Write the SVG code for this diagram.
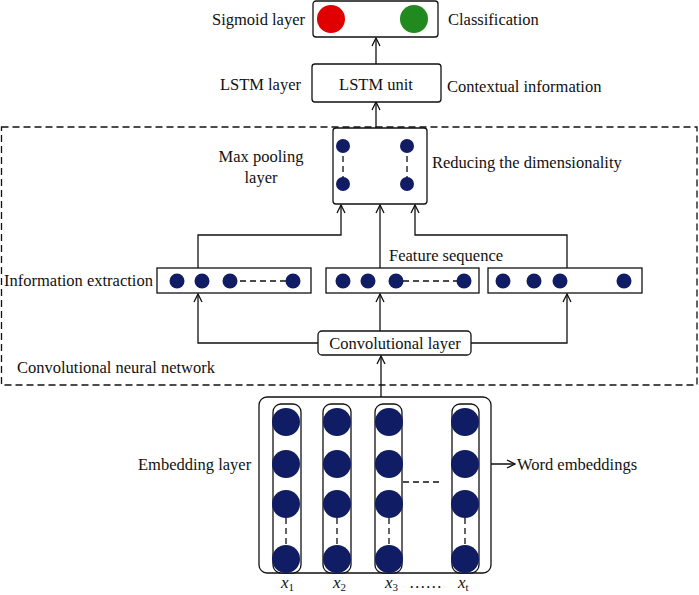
<svg xmlns="http://www.w3.org/2000/svg" width="699" height="595" viewBox="0 0 699 595">
<style>
text{font-family:"Liberation Serif","Times New Roman",serif;font-size:16.5px;fill:#111}
.box{fill:#fff;stroke:#111;stroke-width:1.3}
.dot{fill:#101c63}
.ln{fill:none;stroke:#111;stroke-width:1.3}
.arr{fill:none;stroke:#111;stroke-width:1.3;marker-end:url(#ah)}
.dash{fill:none;stroke:#111;stroke-width:1.3;stroke-dasharray:6 4}
.var{font-style:italic;font-size:17px}
.sub{font-size:11px;font-style:normal}
</style>
<defs>
<marker id="ah" viewBox="0 0 10 10" refX="9" refY="5" markerWidth="10" markerHeight="10" markerUnits="userSpaceOnUse" orient="auto">
<path d="M1,1 L9,5 L1,9" fill="none" stroke="#111" stroke-width="1.3"/>
</marker>
</defs>

<g id="cnn-region">
<rect x="1.5" y="127" width="695.5" height="258" fill="none" stroke="#111" stroke-width="1.3" stroke-dasharray="7 4"/>
<text x="17" y="373">Convolutional neural network</text>
</g>

<g id="connectors">
<line class="arr" x1="376" y1="64" x2="376" y2="38"/>
<line class="arr" x1="376" y1="128" x2="376" y2="102"/>
<polyline class="arr" points="198,268 198,235 341,235 341,205"/>
<line class="arr" x1="380" y1="268" x2="380" y2="205"/>
<polyline class="arr" points="567,268 567,235 415,235 415,205"/>
<polyline class="arr" points="318,343 198,343 198,294"/>
<line class="arr" x1="380" y1="331" x2="380" y2="294"/>
<polyline class="arr" points="471,343 567,343 567,294"/>
<line class="arr" x1="381" y1="397" x2="381" y2="356"/>
<line class="arr" x1="479" y1="464" x2="515" y2="464"/>
</g>

<g id="sigmoid">
<rect class="box" x="313" y="1" width="125" height="36" rx="3"/>
<circle cx="331" cy="19" r="14" fill="#e00000"/>
<circle cx="414" cy="19" r="14" fill="#218a1e"/>
<text x="305" y="25" text-anchor="end">Sigmoid layer</text>
<text x="448" y="25">Classification</text>
</g>

<g id="lstm">
<rect class="box" x="312" y="64" width="129" height="38" rx="3"/>
<text x="376" y="90" text-anchor="middle">LSTM unit</text>
<text x="301" y="90" text-anchor="end">LSTM layer</text>
<text x="447" y="92">Contextual information</text>
</g>

<g id="maxpool">
<rect class="box" x="333" y="128" width="94" height="76" rx="3"/>
<line class="dash" x1="343" y1="146" x2="343" y2="184" stroke-dasharray="5 4"/>
<line class="dash" x1="407" y1="146" x2="407" y2="184" stroke-dasharray="5 4"/>
<circle class="dot" cx="343" cy="146" r="7"/>
<circle class="dot" cx="407" cy="146" r="7"/>
<circle class="dot" cx="343" cy="184" r="7"/>
<circle class="dot" cx="407" cy="184" r="7"/>
<text x="261" y="162" text-anchor="middle">Max pooling</text>
<text x="261" y="183" text-anchor="middle">layer</text>
<text x="432" y="168">Reducing the dimensionality</text>
</g>

<g id="feature1">
<rect class="box" x="157" y="268" width="154" height="25"/>
<line class="dash" x1="230" y1="281" x2="293" y2="281" stroke-dasharray="6 4"/>
<circle class="dot" cx="177" cy="281" r="7.5"/>
<circle class="dot" cx="202" cy="281" r="7.5"/>
<circle class="dot" cx="230" cy="281" r="7.5"/>
<circle class="dot" cx="293" cy="281" r="7.5"/>
<text x="4" y="286">Information extraction</text>
</g>

<g id="feature2">
<rect class="box" x="326" y="268" width="153" height="25"/>
<line class="dash" x1="403" y1="281" x2="464" y2="281" stroke-dasharray="1 4 6 4 6 4 6 4 6 4 6 4"/>
<circle class="dot" cx="343" cy="281" r="7.5"/>
<circle class="dot" cx="368" cy="281" r="7.5"/>
<circle class="dot" cx="396" cy="281" r="7.5"/>
<circle class="dot" cx="464" cy="281" r="7.5"/>
<text x="389" y="261">Feature sequence</text>
</g>

<g id="feature3">
<rect class="box" x="488" y="268" width="154" height="25"/>
<circle class="dot" cx="503" cy="281" r="7.5"/>
<circle class="dot" cx="534" cy="281" r="7.5"/>
<circle class="dot" cx="560" cy="281" r="7.5"/>
<circle class="dot" cx="624" cy="281" r="7.5"/>
</g>

<g id="conv">
<rect class="box" x="318" y="331" width="153" height="24" rx="4"/>
<text x="395" y="349" text-anchor="middle">Convolutional layer</text>
</g>

<g id="embedding">
<rect class="box" x="259" y="397" width="232" height="176" rx="8"/>
<rect class="box" x="273" y="404" width="28" height="169" rx="8"/>
<rect class="box" x="323" y="404" width="28" height="169" rx="8"/>
<rect class="box" x="375" y="404" width="27" height="169" rx="8"/>
<rect class="box" x="452" y="404" width="27" height="169" rx="8"/>
<line class="dash" x1="286" y1="518" x2="286" y2="545" stroke-dasharray="6 4"/>
<line class="dash" x1="337" y1="518" x2="337" y2="545" stroke-dasharray="6 4"/>
<line class="dash" x1="389" y1="518" x2="389" y2="545" stroke-dasharray="6 4"/>
<line class="dash" x1="465" y1="518" x2="465" y2="545" stroke-dasharray="6 4"/>
<line class="dash" x1="403" y1="482" x2="441" y2="482" stroke-dasharray="7 5"/>
<g class="dot">
<circle cx="286" cy="422" r="14"/><circle cx="286" cy="464" r="14"/><circle cx="286" cy="504" r="14"/><circle cx="286" cy="559" r="14"/>
<circle cx="337" cy="422" r="14"/><circle cx="337" cy="464" r="14"/><circle cx="337" cy="504" r="14"/><circle cx="337" cy="559" r="14"/>
<circle cx="389" cy="422" r="14"/><circle cx="389" cy="464" r="14"/><circle cx="389" cy="504" r="14"/><circle cx="389" cy="559" r="14"/>
<circle cx="465" cy="422" r="14"/><circle cx="465" cy="464" r="14"/><circle cx="465" cy="504" r="14"/><circle cx="465" cy="559" r="14"/>
</g>
<text x="138" y="470">Embedding layer</text>
<text x="517" y="470">Word embeddings</text>
<text class="var" x="281" y="588">x<tspan class="sub" dy="3">1</tspan></text>
<text class="var" x="333" y="588">x<tspan class="sub" dy="3">2</tspan></text>
<text class="var" x="385" y="588">x<tspan class="sub" dy="3">3</tspan></text>
<text x="409" y="588">……</text>
<text class="var" x="458" y="588">x<tspan class="sub" dy="3">t</tspan></text>
</g>
</svg>
